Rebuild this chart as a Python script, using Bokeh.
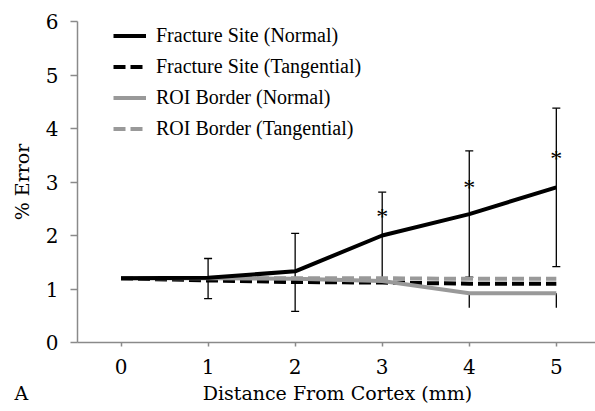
from bokeh.plotting import figure
from bokeh.models import (Legend, LegendItem, Whisker, ColumnDataSource, FixedTicker, Range1d,
                          LinearAxis)
from bokeh.core.properties import value
from bokeh.embed import file_html
from bokeh.resources import INLINE

# ---- data ----
distance = [0, 1, 2, 3, 4, 5]
frac_normal = [1.2, 1.21, 1.33, 2.0, 2.4, 2.9]
frac_tang = [1.2, 1.16, 1.13, 1.12, 1.10, 1.10]
roi_normal = [1.2, 1.2, 1.19, 1.15, 0.92, 0.92]
roi_tang = [1.2, 1.2, 1.2, 1.2, 1.19, 1.19]

err_x = [1, 2, 3, 4, 5]
err_upper = [1.57, 2.04, 2.81, 3.58, 4.38]
err_lower = [0.82, 0.58, 1.19, 1.22, 1.42]

roi_err_x = [4, 5]
roi_err_lower = [0.65, 0.65]
roi_err_upper = [0.92, 0.92]

star_x = [3, 4, 5]
star_y = [2.41, 2.95, 3.49]

y_ticks = [0, 1, 2, 3, 4, 5, 6]
x_ticks = [0, 1, 2, 3, 4, 5]

x_title = "Distance From Cortex (mm)"
y_title = "% Error"
panel_letter = "A"

FONT = "'Liberation Serif', 'Times New Roman', 'DejaVu Serif', serif"
AXFONT = "DejaVu Serif"
GRAY = "#999999"
AXIS = "#8a8a8a"

p = figure(width=595, height=411, output_backend="svg", toolbar_location=None,
           x_range=Range1d(-0.5, 5.45), y_range=Range1d(0, 6),
           min_border_left=77, min_border_right=0, min_border_top=21, min_border_bottom=69)
p.outline_line_color = None
p.xgrid.visible = False
p.ygrid.visible = False
p.background_fill_color = "white"
p.border_fill_color = "white"

# error bars
src = ColumnDataSource(dict(x=err_x, upper=err_upper, lower=err_lower))
w = Whisker(source=src, base="x", upper="upper", lower="lower", line_color="black", line_width=1.3)
w.upper_head.size = 8
w.lower_head.size = 8
w.upper_head.line_width = 1.3
w.lower_head.line_width = 1.3
p.add_layout(w)

src2 = ColumnDataSource(dict(x=roi_err_x, upper=roi_err_upper, lower=roi_err_lower))
w2 = Whisker(source=src2, base="x", upper="upper", lower="lower", line_color="black",
             line_width=1.3, upper_head=None, lower_head=None)
p.add_layout(w2)

r_rt = p.line(distance, roi_tang, line_color=GRAY, line_width=4, line_dash="12 5")
r_ft = p.line(distance, frac_tang, line_color="black", line_width=4, line_dash="12 5")
r_rn = p.line(distance, roi_normal, line_color=GRAY, line_width=4)
r_fn = p.line(distance, frac_normal, line_color="black", line_width=4)

p.text(star_x, star_y, text=["*"] * len(star_x), text_font=value(FONT), text_font_size="24px",
       text_align="center", text_baseline="middle", y_offset=2, text_color="black")

legend = Legend(items=[
    LegendItem(label="Fracture Site (Normal)", renderers=[r_fn]),
    LegendItem(label="Fracture Site (Tangential)", renderers=[r_ft]),
    LegendItem(label="ROI Border (Normal)", renderers=[r_rn]),
    LegendItem(label="ROI Border (Tangential)", renderers=[r_rt]),
], location=(36, 201))
legend.label_text_font = FONT
legend.label_text_font_size = "20px"
legend.label_text_color = "black"
legend.glyph_width = 33
legend.glyph_height = 25
legend.label_height = 25
legend.spacing = 6
legend.padding = 0
legend.margin = 0
legend.label_standoff = 10
legend.border_line_color = None
legend.background_fill_alpha = 0
p.add_layout(legend)

for ax in (p.xaxis[0], p.yaxis[0]):
    ax.axis_line_color = AXIS
    ax.axis_line_width = 1.5
    ax.major_tick_line_color = AXIS
    ax.major_tick_line_width = 1.5
    ax.minor_tick_line_color = None
    ax.major_tick_in = 0
    ax.major_label_text_font = AXFONT
    ax.major_label_text_font_size = "20px"
    ax.major_label_text_color = "black"
    ax.axis_label_text_font = AXFONT
    ax.axis_label_text_font_size = "19px"
    ax.axis_label_text_font_style = "normal"
    ax.axis_label_text_color = "black"

p.xaxis.ticker = FixedTicker(ticks=x_ticks)
p.yaxis.ticker = FixedTicker(ticks=y_ticks)
p.xaxis.major_tick_out = 4
p.yaxis.major_tick_out = 7
p.xaxis.major_label_standoff = 12
p.yaxis.major_label_standoff = 12
p.yaxis.axis_label = y_title
p.yaxis.axis_label_standoff = 10

# second, bare axis below carrying the panel letter and the x title on one row
letter_pos = -0.49
title_pos = 2.486
pad = "\u2003" * 6
cap_axis = LinearAxis(ticker=FixedTicker(ticks=[letter_pos, title_pos]),
                      major_label_overrides={letter_pos: panel_letter + pad, title_pos: x_title})
cap_axis.axis_line_color = None
cap_axis.major_tick_line_color = None
cap_axis.minor_tick_line_color = None
cap_axis.major_tick_in = 0
cap_axis.major_tick_out = 0
cap_axis.major_label_standoff = 5
cap_axis.major_label_text_font = AXFONT
cap_axis.major_label_text_font_size = "19px"
cap_axis.major_label_text_color = "black"
p.add_layout(cap_axis, "below")

open("out.html", "w").write(file_html(p, INLINE))
